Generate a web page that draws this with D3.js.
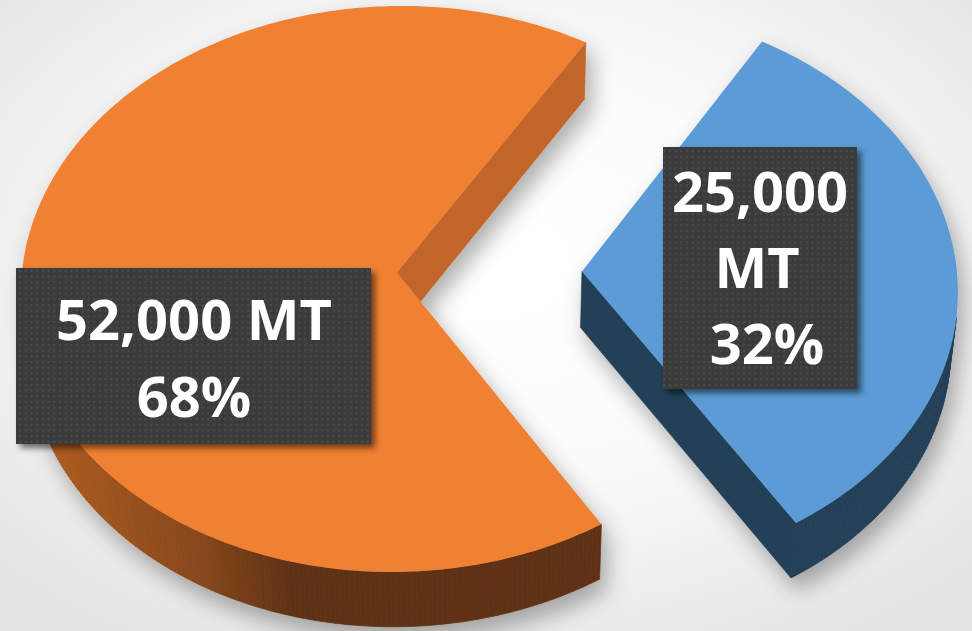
<!DOCTYPE html>
<html>
<head>
<meta charset="utf-8">
<script src="https://cdn.jsdelivr.net/npm/d3@7"></script>
<style>
  html, body { margin: 0; padding: 0; background: #ffffff; }
  svg { display: block; }
</style>
</head>
<body>
<svg id="chart" width="972" height="631"></svg>
<script>
// ---------------- data ----------------
const categories = ['Slice A', 'Slice B'];
const values = [52000, 25000];
const unit = 'MT';
const topColors = ['#f08133', '#5b9bd5'];
const sideColors = ['#c1652a', '#233f57'];

// ---------------- geometry / camera ----------------
const W = 972, H = 631;
const cx = 486, cy = 272;
const R = 375, depth = 86.5;
const sinP = 0.752, cosP = Math.sqrt(1 - sinP * sinP);
const D = 4250;
const explode = [89, 96];
const cam = [0, D * sinP, D * cosP];

function proj(p) {
  const [X, Y, Z] = p;
  const sy = Y * cosP - Z * sinP;
  const sz = Y * sinP + Z * cosP;
  const s = D / (D - sz);
  return [cx + X * s, cy - sy * s];
}

const svg = d3.select('#chart');
const defs = svg.append('defs');

// background vignette
const bg = defs.append('radialGradient').attr('id', 'bgGrad')
  .attr('cx', '50%').attr('cy', '42%').attr('r', '72%');
bg.append('stop').attr('offset', '0%').attr('stop-color', '#ffffff');
bg.append('stop').attr('offset', '45%').attr('stop-color', '#fbfbfb');
bg.append('stop').attr('offset', '100%').attr('stop-color', '#e3e3e3');
svg.append('rect').attr('width', W).attr('height', H).attr('fill', 'url(#bgGrad)');

// slice shadow
const sh = defs.append('filter').attr('id', 'sliceShadow')
  .attr('x', '-20%').attr('y', '-20%').attr('width', '140%').attr('height', '145%');
sh.append('feGaussianBlur').attr('in', 'SourceAlpha').attr('stdDeviation', 11).attr('result', 'b');
sh.append('feOffset').attr('in', 'b').attr('dx', 6).attr('dy', 12).attr('result', 'o');
sh.append('feFlood').attr('flood-color', '#000').attr('flood-opacity', 0.32).attr('result', 'f');
sh.append('feComposite').attr('in', 'f').attr('in2', 'o').attr('operator', 'in').attr('result', 's');
const shm = sh.append('feMerge');
shm.append('feMergeNode').attr('in', 's');
shm.append('feMergeNode').attr('in', 'SourceGraphic');

// label shadow
const lsh = defs.append('filter').attr('id', 'labelShadow')
  .attr('x', '-10%').attr('y', '-10%').attr('width', '125%').attr('height', '130%');
lsh.append('feGaussianBlur').attr('in', 'SourceAlpha').attr('stdDeviation', 3).attr('result', 'b');
lsh.append('feOffset').attr('in', 'b').attr('dx', 4).attr('dy', 4).attr('result', 'o');
lsh.append('feFlood').attr('flood-color', '#000').attr('flood-opacity', 0.55).attr('result', 'f');
lsh.append('feComposite').attr('in', 'f').attr('in2', 'o').attr('operator', 'in').attr('result', 's');
const lshm = lsh.append('feMerge');
lshm.append('feMergeNode').attr('in', 's');
lshm.append('feMergeNode').attr('in', 'SourceGraphic');

// dotted texture for labels
const pat = defs.append('pattern').attr('id', 'dots')
  .attr('patternUnits', 'userSpaceOnUse').attr('width', 5.7).attr('height', 5.7);
pat.append('rect').attr('width', 5.7).attr('height', 5.7).attr('fill', '#3b3b3b');
pat.append('rect').attr('x', 2).attr('y', 2).attr('width', 2).attr('height', 2).attr('fill', '#4d4d4d');

// ---------------- pie ----------------
const start = 148 * Math.PI / 180;
const arcs = d3.pie().sort(null).startAngle(start).endAngle(start + 2 * Math.PI)(values);

const orangeRim = d3.scaleLinear()
  .domain([50, 200, 290])
  .range(['#ab5b20', '#87471b', '#5e3215'])
  .clamp(true);

const line = d3.line();
const dot = (a, b) => a[0] * b[0] + a[1] * b[1] + a[2] * b[2];

arcs.forEach((a, i) => {
  const mid = (a.startAngle + a.endAngle) / 2;
  const ox = explode[i] * Math.sin(mid);
  const oz = -explode[i] * Math.cos(mid);
  const rim = (t, y) => [ox + R * Math.sin(t), y, oz - R * Math.cos(t)];
  const apexT = [ox, 0, oz], apexB = [ox, -depth, oz];

  const faces = [];
  const visible = (n, p) => dot(n, [cam[0] - p[0], cam[1] - p[1], cam[2] - p[2]]) > 0;

  // rim strips
  const n = Math.ceil((a.endAngle - a.startAngle) / (Math.PI / 240));
  const dt = (a.endAngle - a.startAngle) / n;
  for (let k = 0; k < n; k++) {
    const t0 = a.startAngle + k * dt, t1 = t0 + dt, tm = (t0 + t1) / 2;
    const nrm = [Math.sin(tm), 0, -Math.cos(tm)];
    const pc = rim(tm, -depth / 2);
    if (!visible(nrm, pc)) continue;
    const pts = [rim(t0, 0), rim(t1, 0), rim(t1, -depth), rim(t0, -depth)].map(proj);
    const col = i === 0 ? orangeRim(proj(rim(tm, 0))[0]) : sideColors[1];
    faces.push({ pts, col, z: pc[2] });
  }
  // radial faces
  [[a.startAngle, a.startAngle - Math.PI / 2], [a.endAngle, a.endAngle + Math.PI / 2]].forEach(([t, na]) => {
    const nrm = [Math.sin(na), 0, -Math.cos(na)];
    const pc = rim(t, -depth / 2);
    const cen = [(pc[0] + ox) / 2, -depth / 2, (pc[2] + oz) / 2];
    if (!visible(nrm, cen)) return;
    const pts = [apexT, rim(t, 0), rim(t, -depth), apexB].map(proj);
    faces.push({ pts, col: sideColors[i], z: cen[2] });
  });
  faces.sort((p, q) => p.z - q.z);

  const g = svg.append('g').attr('class', 'slice ' + categories[i]).attr('filter', 'url(#sliceShadow)');
  g.selectAll('path.side').data(faces).join('path')
    .attr('class', 'side')
    .attr('d', f => line(f.pts) + 'Z')
    .attr('fill', f => f.col)
    .attr('stroke', f => f.col)
    .attr('stroke-width', 0.7)
    .attr('stroke-linejoin', 'round');

  const topPts = [proj(apexT)];
  for (let k = 0; k <= n; k++) topPts.push(proj(rim(a.startAngle + k * dt, 0)));
  g.append('path').attr('class', 'top')
    .attr('d', line(topPts) + 'Z')
    .attr('fill', topColors[i]);
});

// ---------------- labels ----------------
const total = d3.sum(values);
const fmt = d3.format(',');
const pct = values.map(v => Math.round(v / total * 100) + '%');
const labelLines = [
  [fmt(values[0]) + ' ' + unit, pct[0]],
  [fmt(values[1]), unit, pct[1]]
];
const labelBoxes = [
  { x: 16, y: 268, w: 355, h: 176, cx: 194, base: 340, step: 77, dx: [0, 0] },
  { x: 663, y: 147, w: 194, h: 242, cx: 760, base: 212, step: 76, dx: [0, -3, 7] }
];

labelBoxes.forEach((b, i) => {
  const lg = svg.append('g').attr('class', 'label');
  lg.append('rect').attr('x', b.x).attr('y', b.y).attr('width', b.w).attr('height', b.h)
    .attr('fill', 'url(#dots)').attr('filter', 'url(#labelShadow)');
  lg.selectAll('text').data(labelLines[i]).join('text')
    .attr('x', (d, j) => b.cx + b.dx[j])
    .attr('y', (d, j) => b.base + j * b.step)
    .attr('text-anchor', 'middle')
    .attr('font-family', '"Open Sans", "Noto Sans", sans-serif')
    .attr('font-weight', 700)
    .attr('font-size', 56)
    .attr('fill', '#ffffff')
    .text(d => d);
});
</script>
</body>
</html>
